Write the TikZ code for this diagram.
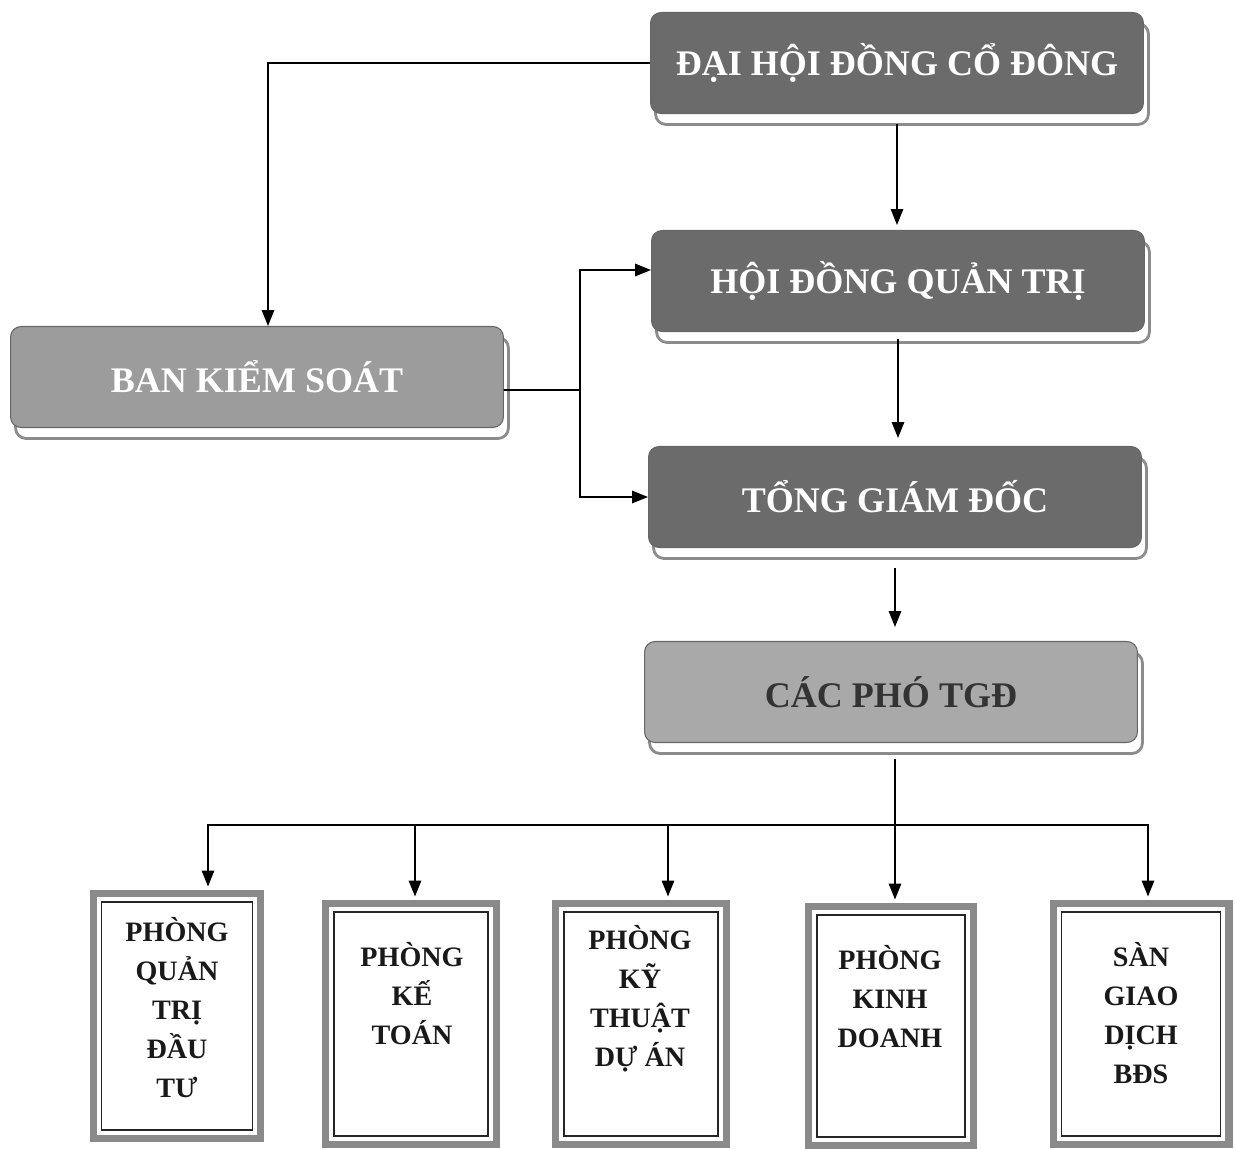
\documentclass[tikz,border=0pt]{standalone}
\usepackage{fontspec}
\setmainfont{Liberation Serif}
\usetikzlibrary{positioning, arrows.meta, shadows}

\definecolor{boxdark}{HTML}{6B6B6B}
\definecolor{boxmid}{HTML}{9C9C9C}
\definecolor{boxlight}{HTML}{A9A9A9}
\definecolor{framegray}{HTML}{8A8A8A}

\tikzstyle{board} = [rectangle, rounded corners=6pt, draw=black!60, line width=0.6pt,
    minimum width=9.86cm, minimum height=2.02cm, font=\fontsize{20.5}{24}\selectfont\bfseries,
    copy shadow={shadow xshift=0.1cm, shadow yshift=-0.22cm, fill=white, draw=black!45, line width=1.6pt}]
\tikzstyle{darkboard} = [board, fill=boxdark, text=white]
\tikzstyle{midboard} = [board, fill=boxmid, text=white]
\tikzstyle{lightboard} = [board, fill=boxlight, text=black!80]
\tikzstyle{dept} = [rectangle, draw=framegray, line width=4pt, fill=white,
    path picture={\draw [black!85, line width=0.8pt]
        ([shift={(0.17cm,0.17cm)}]path picture bounding box.south west) rectangle
        ([shift={(-0.17cm,-0.17cm)}]path picture bounding box.north east);}]
\tikzstyle{depttext} = [align=center, font=\fontsize{16}{22.2}\selectfont\bfseries, text=black!90]
\tikzstyle{arrow} = [line width=1pt, -{Triangle[length=9pt, width=7pt]}]
\tikzstyle{wire} = [line width=1pt]

\begin{document}
\begin{tikzpicture}[x=0.02cm, y=-0.02cm]
        \useasboundingbox (0,0) rectangle (1235,1149);

        % Nodes
        \node (dhdcd) [darkboard] at (897,63) {ĐẠI HỘI ĐỒNG CỔ ĐÔNG};
        \node (hdqt) [darkboard] at (898,281) {HỘI ĐỒNG QUẢN TRỊ};
        \node (bks) [midboard] at (257,377) {BAN KIỂM SOÁT};
        \node (tgd) [darkboard] at (895,497) {TỔNG GIÁM ĐỐC};
        \node (cacpho) [lightboard] at (891,692) {CÁC PHÓ TGĐ};

        % Departments
        \node (qtdt) [dept, minimum width=3.36cm, minimum height=4.9cm] at (177,1016) {};
        \node (ketoan) [dept, minimum width=3.42cm, minimum height=4.82cm] at (411,1024) {};
        \node (kythuat) [dept, minimum width=3.42cm, minimum height=4.82cm] at (641,1024) {};
        \node (kinhdoanh) [dept, minimum width=3.3cm, minimum height=4.78cm] at (891,1026) {};
        \node (sangd) [dept, minimum width=3.52cm, minimum height=4.82cm] at (1141,1024) {};

        \node (qtdt-txt) [depttext] at (177,1008) {PHÒNG\\QUẢN\\TRỊ\\ĐẦU\\TƯ};
        \node (ketoan-txt) [depttext] at (412,994) {PHÒNG\\KẾ\\TOÁN};
        \node (kythuat-txt) [depttext] at (640,999) {PHÒNG\\KỸ\\THUẬT\\DỰ ÁN};
        \node (kinhdoanh-txt) [depttext] at (890,997) {PHÒNG\\KINH\\DOANH};
        \node (sangd-txt) [depttext] at (1141,1013) {SÀN\\GIAO\\DỊCH\\BĐS};

        % Arrows
        \draw [arrow] (dhdcd.west) -| ([xshift=0.22cm]bks.north);
        \draw [arrow, shorten <=0.2cm, shorten >=0.1cm] (dhdcd.south) -- (dhdcd.south |- hdqt.north);

        \coordinate (split) at (580,390);
        \draw [wire] ([yshift=-0.26cm]bks.east) -- (split);
        \draw [arrow] (split) |- ([yshift=0.22cm]hdqt.west);
        \draw [arrow] (split) |- (tgd.west);

        \draw [arrow, shorten <=0.14cm, shorten >=0.16cm] (hdqt.south) -- (hdqt.south |- tgd.north);
        \draw [arrow, shorten <=0.4cm, shorten >=0.28cm] (tgd.south) -- (tgd.south |- cacpho.north);

        \coordinate (bus) at (895,825);
        \draw [wire, shorten <=0.32cm] (cacpho.south -| bus) -- (bus);
        \draw [arrow, shorten >=2pt] (bus) -| ([xshift=0.62cm]qtdt.north);
        \draw [arrow, shorten >=2pt] (bus) -| ([xshift=0.08cm]ketoan.north);
        \draw [arrow, shorten >=2pt] (bus) -| ([xshift=0.54cm]kythuat.north);
        \draw [arrow, shorten >=2pt] (bus) -- (bus |- kinhdoanh.north);
        \draw [arrow, shorten >=2pt] (bus) -| ([xshift=0.14cm]sangd.north);
    \end{tikzpicture}
\end{document}
